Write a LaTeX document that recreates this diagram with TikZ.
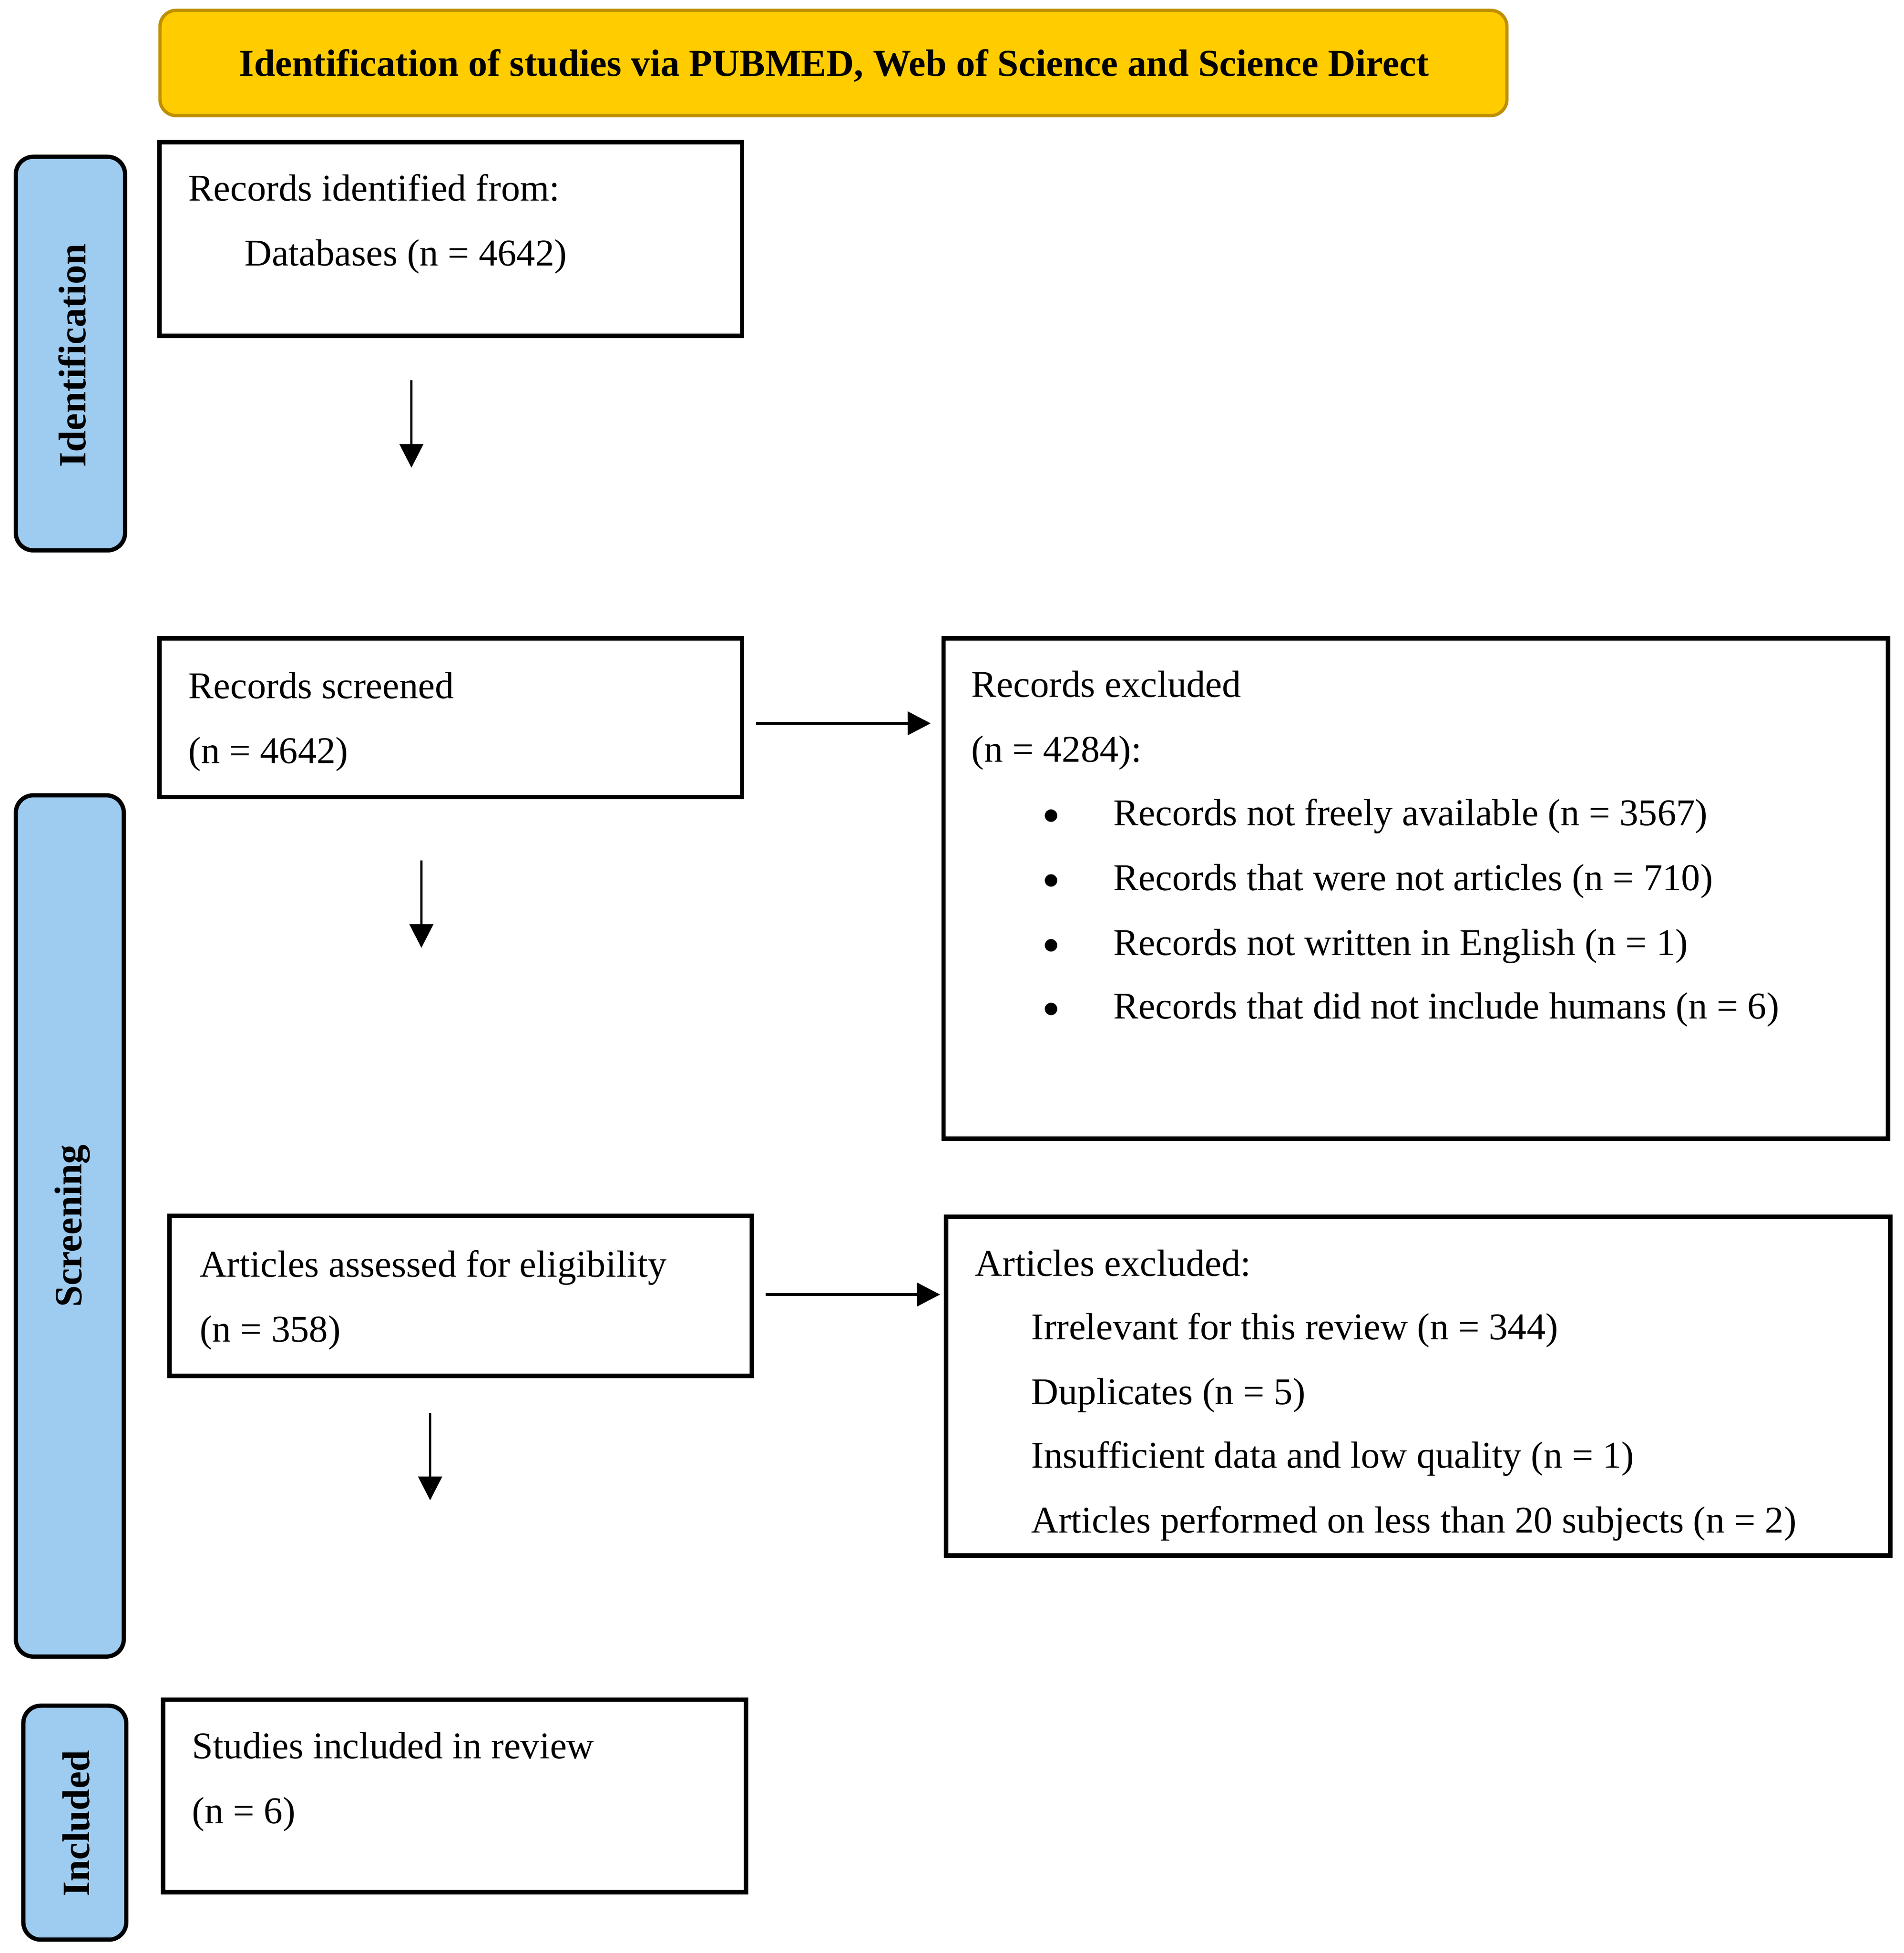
\documentclass[tikz,border=0pt]{standalone}
\usepackage{fontspec}
\setmainfont{Liberation Serif}
\usetikzlibrary{arrows.meta,fit,calc}
\definecolor{phaseblue}{RGB}{158,203,240}
\definecolor{titlegold}{RGB}{255,204,0}
\definecolor{titleedge}{RGB}{191,143,0}
\begin{document}
\begin{tikzpicture}[x=1pt,y=-1pt,
  flowbox/.style={draw=black, line width=3.6pt, fill=white, inner sep=0pt, rectangle},
  phasebox/.style={draw=black, line width=3.4pt, fill=phaseblue, inner sep=0pt, rounded corners=14pt, rectangle},
  titlebox/.style={draw=titleedge, line width=2.6pt, fill=titlegold, inner sep=0pt, rounded corners=13pt, rectangle},
  bodytext/.style={anchor=base west, inner sep=0pt, font=\fontsize{30.3}{52}\selectfont},
  bulletdot/.style={circle, fill=black, inner sep=0pt, minimum size=10pt},
  phaselabel/.style={rotate=90, inner sep=0pt, font=\fontsize{31}{52}\selectfont\bfseries},
  titletext/.style={anchor=base, inner sep=0pt, font=\fontsize{30.5}{52}\selectfont\bfseries},
  varrow/.style={line width=1.7pt, -{Triangle[length=19pt,width=19pt]}},
  harrow/.style={line width=2.2pt, -{Triangle[length=18.5pt,width=18.7pt]}}
]
\useasboundingbox[fill=white] (0,0) rectangle (1527,1566);

% title
\node[titlebox, fit={(128.3,8.3)(1208.7,92.7)}] (title) {};
\node[titletext] (titlet) at (669,61) {Identification of studies via PUBMED, Web of Science and Science Direct};

% phase boxes
\node[phasebox, fit={(12.7,125.7)(100.3,441.3)}] (phid) {};
\node[phaselabel] (phidt) at (58,285) {Identification};
\node[phasebox, fit={(12.7,637.7)(99.3,1328.3)}] (phscr) {};
\node[phaselabel] (phscrt) at (58,983) {Screening};
\node[phasebox, fit={(18.7,1367.7)(101.3,1555.3)}] (phinc) {};
\node[phaselabel] (phinct) at (61,1462) {Included};

% flow boxes
\node[flowbox, fit={(127.8,113.8)(595.2,269.2)}] (ident) {};
\node[bodytext] (identa) at (151,161) {Records identified from:};
\node[bodytext] (identb) at (196,213) {Databases (n = 4642)};

\node[flowbox, fit={(127.8,511.8)(595.2,639.2)}] (screened) {};
\node[bodytext] (screeneda) at (151,560) {Records screened};
\node[bodytext] (screenedb) at (151,612) {(n = 4642)};

\node[flowbox, fit={(756.8,511.8)(1514.2,913.2)}] (excl) {};
\node[bodytext] (excla) at (779,559) {Records excluded};
\node[bodytext] (exclb) at (779,611) {(n = 4284):};
\node[bulletdot] (exclb1) at (843,654) {};
\node[bodytext] (excli1) at (893,662) {Records not freely available (n = 3567)};
\node[bulletdot] (exclb2) at (843,706) {};
\node[bodytext] (excli2) at (893,714) {Records that were not articles (n = 710)};
\node[bulletdot] (exclb3) at (843,758) {};
\node[bodytext] (excli3) at (893,766) {Records not written in English (n = 1)};
\node[bulletdot] (exclb4) at (843,809) {};
\node[bodytext] (excli4) at (893,817) {Records that did not include humans (n = 6)};

\node[flowbox, fit={(135.8,974.8)(603.2,1103.2)}] (assessed) {};
\node[bodytext] (assesseda) at (160,1024) {Articles assessed for eligibility};
\node[bodytext] (assessedb) at (160,1076) {(n = 358)};

\node[flowbox, fit={(758.8,975.8)(1516.2,1247.2)}] (artexcl) {};
\node[bodytext] (artexcla) at (782,1023) {Articles excluded:};
\node[bodytext] (artexcl1) at (827,1074) {Irrelevant for this review (n = 344)};
\node[bodytext] (artexcl2) at (827,1126) {Duplicates (n = 5)};
\node[bodytext] (artexcl3) at (827,1177) {Insufficient data and low quality (n = 1)};
\node[bodytext] (artexcl4) at (827,1229) {Articles performed on less than 20 subjects (n = 2)};

\node[flowbox, fit={(130.8,1362.8)(598.2,1517.2)}] (included) {};
\node[bodytext] (includeda) at (154,1410) {Studies included in review};
\node[bodytext] (includedb) at (154,1462) {(n = 6)};

% arrows
\coordinate (v1s) at (330,305);
\coordinate (v1e) at (330,375);
\coordinate (v2s) at (338,690);
\coordinate (v2e) at (338,760);
\coordinate (v3s) at (345,1133);
\coordinate (v3e) at (345,1203);
\coordinate (h1s) at (606.5,580);
\coordinate (h1e) at (746.5,580);
\coordinate (h2s) at (614,1038);
\coordinate (h2e) at (754,1038);
\draw[varrow] (v1s) -- (v1e);
\draw[varrow] (v2s) -- (v2e);
\draw[varrow] (v3s) -- (v3e);
\draw[harrow] (h1s) -- (h1e);
\draw[harrow] (h2s) -- (h2e);
\end{tikzpicture}
\end{document}
